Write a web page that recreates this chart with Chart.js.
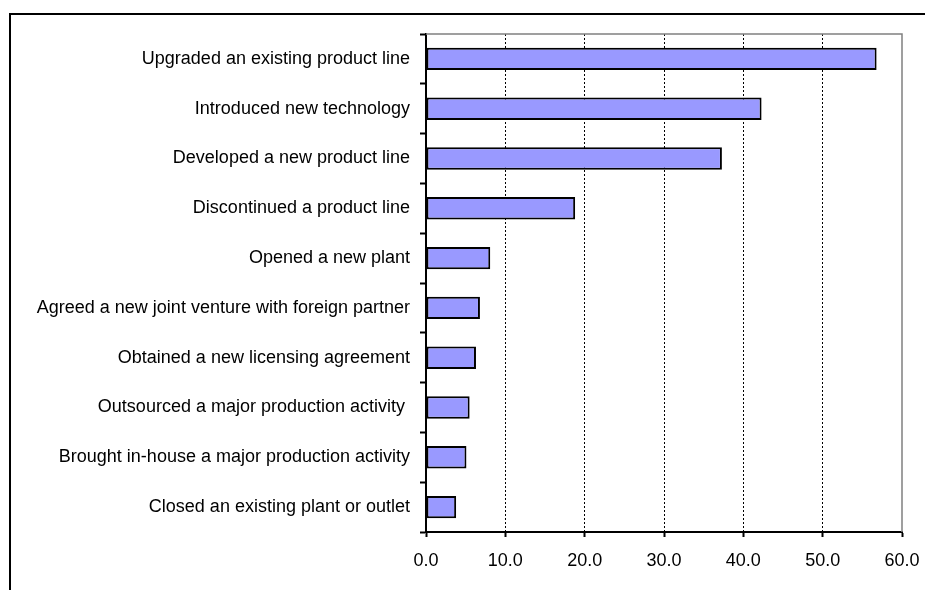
<!DOCTYPE html>
<html>
<head>
<meta charset="utf-8">
<script src="https://cdn.jsdelivr.net/npm/chart.js@4"></script>
<style>
  html, body { margin: 0; padding: 0; background: #fff; overflow: hidden; }
  #frame { position: absolute; left: 9px; top: 13px; width: 960px; height: 620px; border: 2px solid #000; }
  #wrap { position: absolute; left: 0; top: 0; width: 925px; height: 590px; }
</style>
</head>
<body>
<div id="frame"></div>
<div id="wrap"><canvas id="changes"></canvas></div>
<script>
/*_____________________DATA____________________*/

const categories = [
  'Upgraded an existing product line',
  'Introduced new technology',
  'Developed a new product line',
  'Discontinued a product line',
  'Opened a new plant',
  'Agreed a new joint venture with foreign partner',
  'Obtained a new licensing agreement',
  'Outsourced a major production activity ',
  'Brought in-house a major production activity',
  'Closed an existing plant or outlet'
];
const shares = [56.8, 42.3, 37.3, 18.8, 8.1, 6.8, 6.3, 5.5, 5.1, 3.8];
const xTicks = [0, 10, 20, 30, 40, 50, 60];

/*_____________________CHART____________________*/

Chart.defaults.font.family = "'Liberation Sans', Arial, sans-serif";
Chart.defaults.font.size = 18;
Chart.defaults.color = '#000';

// gray frame on the top and right of the plot area
const plotFrame = {
  id: 'plotFrame',
  beforeDatasetsDraw(chart) {
    const a = chart.chartArea, c = chart.ctx;
    c.save();
    c.strokeStyle = '#808080';
    c.lineWidth = 1.5;
    c.beginPath();
    c.moveTo(a.left, a.top);
    c.lineTo(a.right, a.top);
    c.lineTo(a.right, a.bottom);
    c.stroke();
    c.restore();
  }
};

new Chart(document.getElementById('changes'), {
  type: 'bar',
  data: {
    labels: categories,
    datasets: [{
      data: shares,
      backgroundColor: '#9999FF',
      borderColor: '#000',
      borderWidth: 2,
      borderSkipped: false,
      categoryPercentage: 1,
      barPercentage: 0.45
    }]
  },
  options: {
    indexAxis: 'y',
    responsive: true,
    maintainAspectRatio: false,
    animation: false,
    layout: { padding: { top: 34, right: 23, bottom: 0, left: 0 } },
    plugins: { legend: { display: false }, tooltip: { enabled: false } },
    scales: {
      y: {
        afterFit: s => { s.width = 426; },
        grid: {
          drawOnChartArea: false,
          drawTicks: true,
          tickLength: 6,
          tickColor: '#000',
          tickWidth: 2,
          offset: true
        },
        border: { color: '#000', width: 2 },
        ticks: { padding: 10, autoSkip: false }
      },
      x: {
        min: 0,
        max: 60,
        afterFit: s => { s.height = 58; s.paddingLeft = 0; s.paddingRight = 0; },
        afterBuildTicks: s => { s.ticks = xTicks.map(v => ({ value: v })); },
        grid: {
          color: ctx => (ctx.tick && ctx.tick.value > 0 && ctx.tick.value < 60) ? '#000' : 'rgba(0,0,0,0)',
          lineWidth: 1,
          drawTicks: true,
          tickLength: 5,
          tickColor: '#000',
          tickWidth: 2,
          tickBorderDash: []
        },
        border: { color: '#000', width: 2, dash: [2, 2] },
        ticks: {
          padding: 13,
          maxRotation: 0,
          callback: v => Number(v).toFixed(1)
        }
      }
    }
  },
  plugins: [plotFrame]
});
</script>
</body>
</html>
